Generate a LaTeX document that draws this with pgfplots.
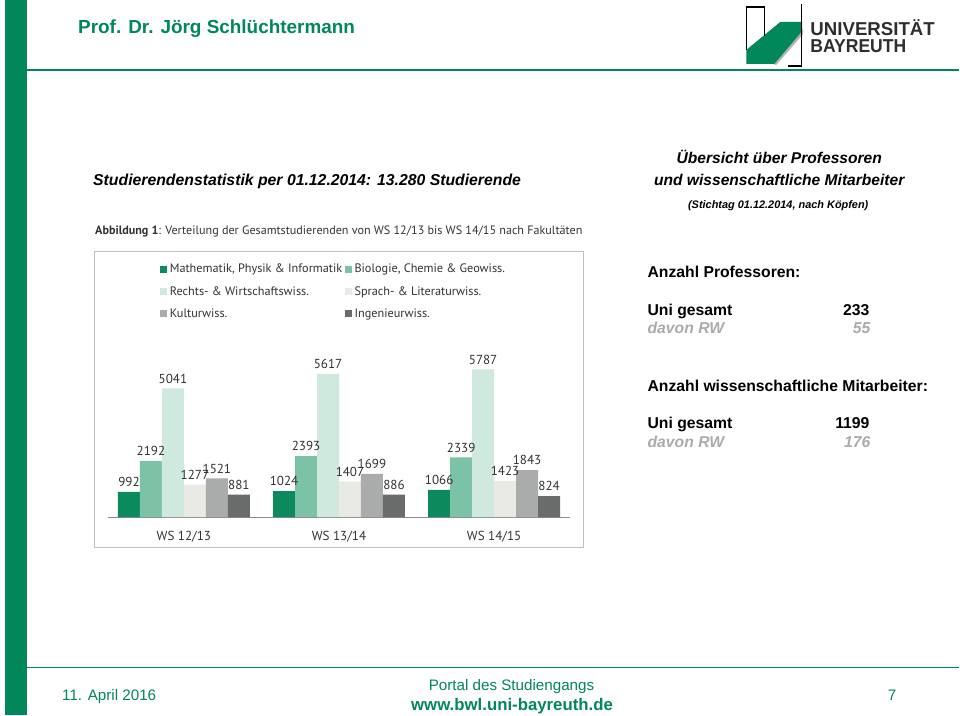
\documentclass[border=0pt]{standalone}
\usepackage{pgfplots}
\pgfplotsset{compat=1.18}
\usepackage{pgfplotstable}
\usepackage{fontspec}
\setmainfont{Liberation Sans}
\newfontfamily\myr{PT Sans}
\definecolor{ubgreen}{HTML}{00875A}
\definecolor{cMath}{HTML}{0B8A5E}
\definecolor{cBio}{HTML}{7CC2A7}
\definecolor{cRecht}{HTML}{CFE9DF}
\definecolor{cSprach}{HTML}{EAEAE4}
\definecolor{cKultur}{HTML}{A9ACAB}
\definecolor{cIng}{HTML}{696C6B}
\definecolor{lbl}{HTML}{333333}
\definecolor{rwgray}{HTML}{ABABAB}

\pgfplotstableread{
x math bio recht sprach kultur ing
0 992 2192 5041 1277 1521 881
1 1024 2393 5617 1407 1699 886
2 1066 2339 5787 1423 1843 824
}\studdata

\begin{document}
\begin{tikzpicture}[x=0.75pt,y=-0.75pt]
\fill[white] (0,0) rectangle (960,716);
% frame of slide
\fill[ubgreen] (5.5,0) rectangle (26.7,716);
\draw[ubgreen, line width=1.4pt] (26.7,70) -- (960,70);
\draw[ubgreen, line width=1.1pt] (26.7,668) -- (960,668);
% title
\node[anchor=base west, inner sep=0, text=ubgreen, font=\bfseries\fontsize{14.2pt}{16pt}\selectfont] at (78,34) {Prof. Dr. Jörg Schlüchtermann};
% logo
\fill[gray!60] (777,65) -- (804,34) -- (804,29) -- (774,64) -- cycle;
\fill[ubgreen] (747,64) -- (747,50) -- (781,22) -- (803,22) -- (803,31) -- (775,64) -- cycle;
\draw[black, line width=0.9pt] (747,50) -- (747,7) -- (765,7) -- (765,36);
\draw[black, line width=0.9pt] (802,4) -- (802,66) -- (789,66);
\node[anchor=base west, inner sep=0, text=black!82, font=\bfseries\fontsize{14pt}{16pt}\selectfont, xscale=1.0] at (811,36) {UNIVERSITÄT};
\node[anchor=base west, inner sep=0, text=black!82, font=\bfseries\fontsize{14pt}{16pt}\selectfont, xscale=0.94] at (811,53) {BAYREUTH};
% headings
\node[anchor=base west, inner sep=0, font=\bfseries\itshape\fontsize{11.85pt}{14pt}\selectfont] at (93,185.5) {Studierendenstatistik per 01.12.2014: 13.280 Studierende};
\node[anchor=base, inner sep=0, font=\bfseries\itshape\fontsize{11.7pt}{14pt}\selectfont] at (780,163.5) {Übersicht über Professoren};
\node[anchor=base, inner sep=0, font=\bfseries\itshape\fontsize{11.7pt}{14pt}\selectfont] at (780,185.5) {und wissenschaftliche Mitarbeiter};
\node[anchor=base, inner sep=0, font=\bfseries\itshape\fontsize{8.2pt}{10pt}\selectfont] at (779,209) {(Stichtag 01.12.2014, nach Köpfen)};
\node[anchor=base west, inner sep=0, text=black!80, font=\myr\fontsize{9.1pt}{11pt}\selectfont] at (95,235) {\textbf{Abbildung 1}: Verteilung der Gesamtstudierenden von WS 12/13 bis WS 14/15 nach Fakultäten};
% chart frame
\draw[black!25, line width=1.1pt] (94.5,251.5) rectangle (584,548);
% right panel
\begin{scope}[every node/.style={inner sep=0, font=\bfseries\fontsize{11.8pt}{14pt}\selectfont}]
\node[anchor=base west] at (648,278) {Anzahl Professoren:};
\node[anchor=base west] at (648,315.5) {Uni gesamt};
\node[anchor=base east] at (870.5,315.5) {233};
\node[anchor=base west, text=rwgray, font=\bfseries\itshape\fontsize{11.8pt}{14pt}\selectfont] at (648,334) {davon RW};
\node[anchor=base east, text=rwgray, font=\bfseries\itshape\fontsize{11.8pt}{14pt}\selectfont] at (871.5,334) {55};
\node[anchor=base west] at (648,391.5) {Anzahl wissenschaftliche Mitarbeiter:};
\node[anchor=base west] at (648,429) {Uni gesamt};
\node[anchor=base east] at (870.5,429) {1199};
\node[anchor=base west, text=rwgray, font=\bfseries\itshape\fontsize{11.8pt}{14pt}\selectfont] at (648,447.5) {davon RW};
\node[anchor=base east, text=rwgray, font=\bfseries\itshape\fontsize{11.8pt}{14pt}\selectfont] at (871.5,447.5) {176};
\end{scope}
% footer
\node[anchor=base west, inner sep=0, text=ubgreen, font=\fontsize{11.4pt}{13pt}\selectfont] at (62,701.5) {11. April 2016};
\node[anchor=base, inner sep=0, text=ubgreen, font=\fontsize{11.4pt}{13pt}\selectfont] at (512,691) {Portal des Studiengangs};
\node[anchor=base, inner sep=0, text=ubgreen, font=\bfseries\fontsize{12.6pt}{14pt}\selectfont] at (512.5,711) {www.bwl.uni-bayreuth.de};
\node[anchor=base, inner sep=0, text=ubgreen, font=\fontsize{11.4pt}{13pt}\selectfont] at (893,701.5) {7};
% chart
\coordinate (chartSW) at (108,517.7);
\begin{axis}[
  at={(chartSW)}, anchor=south west,
  scale only axis, width=347pt, height=115pt,
  xmin=-0.49, xmax=2.49, ymin=0, ymax=6000,
  ybar=0pt, bar width=16.5pt,
  axis x line*=bottom, axis y line=none,
  x axis line style={draw=black!45, line width=0.8pt},
  xtick=data, xticklabels={WS 12/13, WS 13/14, WS 14/15},
  xtick style={draw=none},
  xticklabel style={font=\myr\fontsize{9.8pt}{11pt}\selectfont, text=lbl, yshift=-3pt},
  /pgf/number format/assume math mode=true,
  /pgf/number format/1000 sep={},
  nodes near coords,
  nodes near coords style={font=\myr\fontsize{9.8pt}{11pt}\selectfont, text=lbl, yshift=0.3pt},
  legend columns=2,
  legend cell align=left,
  legend style={draw=none, fill=none, at={(0.104,1.688)}, anchor=north west,
    font=\myr\fontsize{9.2pt}{11pt}\selectfont, text=lbl, row sep=4.6pt,
    /tikz/every even column/.append style={column sep=0pt}},
  legend image code/.code={\fill[#1] (0pt,-2.6pt) rectangle (5.2pt,2.6pt);},
  every axis plot/.append style={draw=none},
  clip=false,
]
\addplot[fill=cMath] table[x=x,y=math] {\studdata};
\addplot[fill=cBio] table[x=x,y=bio] {\studdata};
\addplot[fill=cRecht] table[x=x,y=recht] {\studdata};
\addplot[fill=cSprach] table[x=x,y=sprach] {\studdata};
\addplot[fill=cKultur] table[x=x,y=kultur] {\studdata};
\addplot[fill=cIng] table[x=x,y=ing] {\studdata};
\legend{{Mathematik, Physik \& Informatik}, {Biologie, Chemie \& Geowiss.}, Rechts- \& Wirtschaftswiss., Sprach- \& Literaturwiss., Kulturwiss., Ingenieurwiss.}
\end{axis}
\end{tikzpicture}
\end{document}
